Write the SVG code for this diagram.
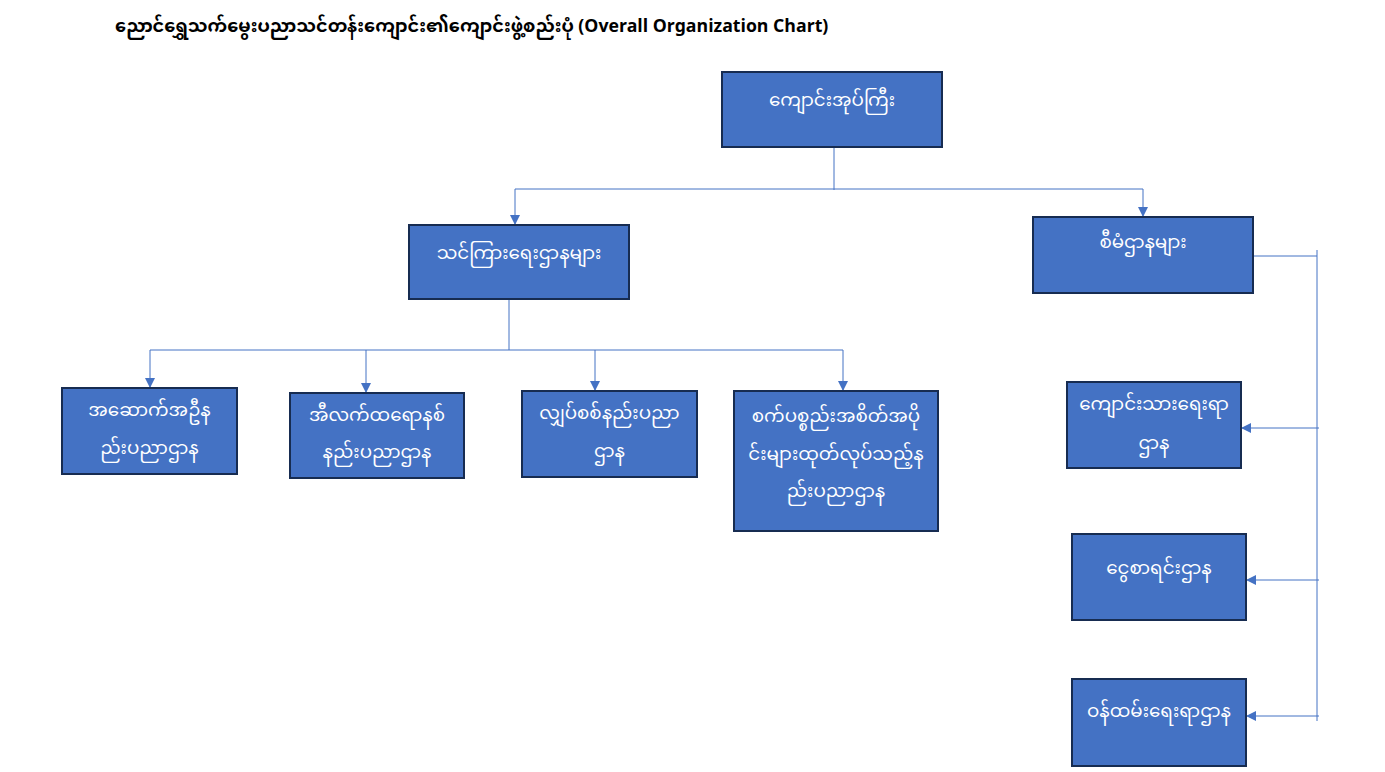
<svg xmlns="http://www.w3.org/2000/svg" width="1385" height="772" viewBox="0 0 1385 772">
<defs>
<style>
.box{fill:#4472C4;stroke:#172C51;stroke-width:2}
.lbl{fill:#ffffff;font-family:"Noto Sans Myanmar","Padauk","Myanmar Text","Noto Sans",sans-serif;font-size:18.3px;text-anchor:middle;dominant-baseline:central}
.ttl{fill:#000000;font-family:"Noto Sans Myanmar","Padauk","Myanmar Text","Noto Sans",sans-serif;font-size:17.7px;font-weight:bold}
.cn{fill:none;stroke:#4472C4;stroke-width:1}
</style>
<marker id="ah" markerWidth="10" markerHeight="10" refX="9" refY="5" orient="auto" markerUnits="userSpaceOnUse">
<path d="M0,0 L10,5 L0,10 Z" fill="#4472C4"/>
</marker>
</defs>
<rect width="1385" height="772" fill="#ffffff"/>
<text class="ttl" x="115" y="32">ညောင်ရွှေသက်မွေးပညာသင်တန်းကျောင်း၏ကျောင်းဖွဲ့စည်းပုံ (Overall Organization Chart)</text>

<g id="connectors">
<path class="cn" d="M834,147 V190"/>
<path class="cn" d="M515,189 H1143"/>
<path class="cn" d="M515,189 V224" marker-end="url(#ah)"/>
<path class="cn" d="M1143,189 V216" marker-end="url(#ah)"/>
<path class="cn" d="M509,299 V350"/>
<path class="cn" d="M150,350 H843"/>
<path class="cn" d="M150,350 V387" marker-end="url(#ah)"/>
<path class="cn" d="M366,350 V392" marker-end="url(#ah)"/>
<path class="cn" d="M595,350 V390" marker-end="url(#ah)"/>
<path class="cn" d="M843,350 V390" marker-end="url(#ah)"/>
<path class="cn" d="M1253,256 H1317"/>
<path class="cn" d="M1317,250 V721"/>
<path class="cn" d="M1319,428 H1242" marker-end="url(#ah)"/>
<path class="cn" d="M1319,580 H1247" marker-end="url(#ah)"/>
<path class="cn" d="M1319,716 H1247" marker-end="url(#ah)"/>
</g>

<g id="principal">
<rect class="box" x="722" y="72" width="220" height="75"/>
<text class="lbl" x="832" y="102">ကျောင်းအုပ်ကြီး</text>
</g>
<g id="academic">
<rect class="box" x="409" y="225" width="220" height="74"/>
<text class="lbl" x="519" y="255">သင်ကြားရေးဌာနများ</text>
</g>
<g id="admin">
<rect class="box" x="1033" y="217" width="220" height="76"/>
<text class="lbl" x="1143" y="244">စီမံဌာနများ</text>
</g>
<g id="building">
<rect class="box" x="62" y="388" width="175" height="86"/>
<text class="lbl" x="149.5" y="412">အဆောက်အဦန</text>
<text class="lbl" x="149.5" y="450">ည်းပညာဌာန</text>
</g>
<g id="electronics">
<rect class="box" x="290" y="393" width="174" height="85"/>
<text class="lbl" x="377" y="417">အီလက်ထရောနစ်</text>
<text class="lbl" x="377" y="454">နည်းပညာဌာန</text>
</g>
<g id="electrical">
<rect class="box" x="522" y="391" width="175" height="86"/>
<text class="lbl" x="609.5" y="415">လျှပ်စစ်နည်းပညာ</text>
<text class="lbl" x="609.5" y="453">ဌာန</text>
</g>
<g id="machinery">
<rect class="box" x="734" y="391" width="204" height="140"/>
<text class="lbl" x="836" y="418">စက်ပစ္စည်းအစိတ်အပို</text>
<text class="lbl" x="836" y="456">င်းများထုတ်လုပ်သည့်န</text>
<text class="lbl" x="836" y="493">ည်းပညာဌာန</text>
</g>
<g id="student">
<rect class="box" x="1067" y="382" width="174" height="86"/>
<text class="lbl" x="1154" y="406">ကျောင်းသားရေးရာ</text>
<text class="lbl" x="1154" y="445">ဌာန</text>
</g>
<g id="finance">
<rect class="box" x="1072" y="534" width="174" height="86"/>
<text class="lbl" x="1159" y="570">ငွေစာရင်းဌာန</text>
</g>
<g id="staff">
<rect class="box" x="1072" y="679" width="174" height="87"/>
<text class="lbl" x="1159" y="713">ဝန်ထမ်းရေးရာဌာန</text>
</g>
</svg>
